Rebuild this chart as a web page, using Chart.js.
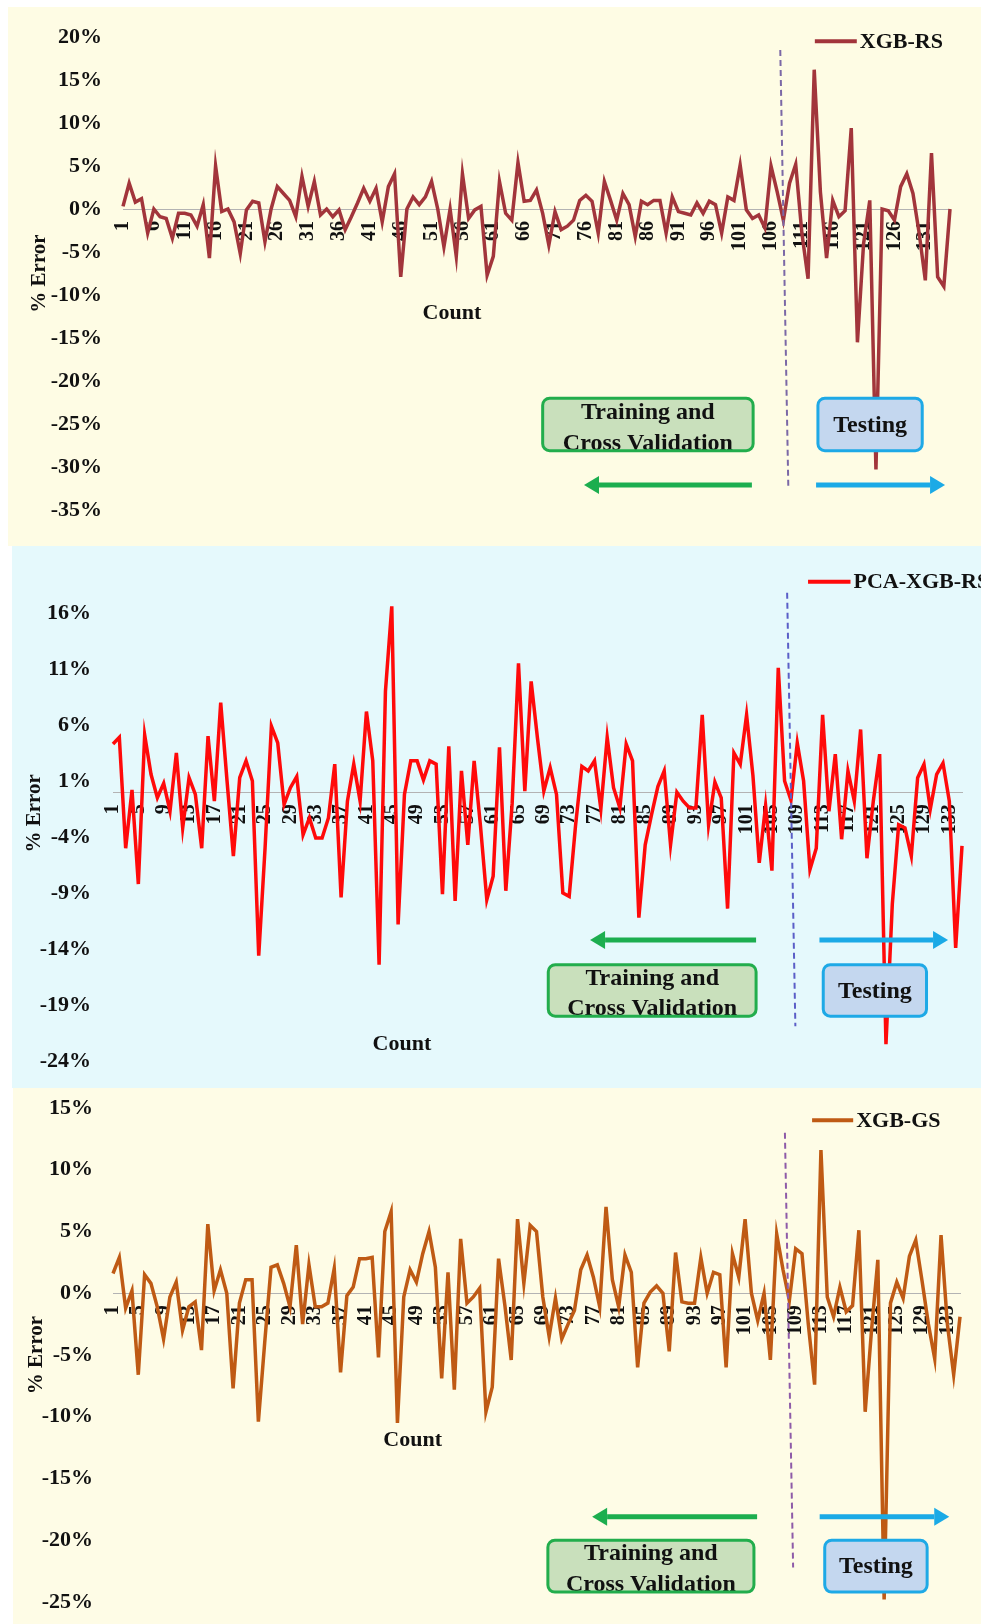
<!DOCTYPE html>
<html>
<head>
<meta charset="utf-8">
<script src="https://cdn.jsdelivr.net/npm/chart.js@4.4.1/dist/chart.umd.min.js"></script>
<style>
  html, body { margin: 0; padding: 0; background: #fff; }
  body { width: 981px; height: 1624px; position: relative; overflow: hidden; }
  .panel { position: absolute; }
  #p1 { left: 8px; top: 7px; width: 973px; height: 539px; background: #FEFCE4; }
  #p2 { left: 12px; top: 546px; width: 969px; height: 542px; background: #E5F9FC; }
  #p3 { left: 13px; top: 1088px; width: 968px; height: 536px; background: #FEFCE6; }
</style>
</head>
<body>
<div class="panel" id="p1"><canvas id="c1" width="973" height="539"></canvas></div>
<div class="panel" id="p2"><canvas id="c2" width="969" height="542"></canvas></div>
<div class="panel" id="p3"><canvas id="c3" width="968" height="536"></canvas></div>
<script>
// sample count (x axis)
const counts = [
  1, 2, 3, 4, 5, 6, 7, 8, 9, 10, 11, 12, 13, 14, 15, 16, 17, 18, 19, 20,
  21, 22, 23, 24, 25, 26, 27, 28, 29, 30, 31, 32, 33, 34, 35, 36, 37, 38, 39, 40,
  41, 42, 43, 44, 45, 46, 47, 48, 49, 50, 51, 52, 53, 54, 55, 56, 57, 58, 59, 60,
  61, 62, 63, 64, 65, 66, 67, 68, 69, 70, 71, 72, 73, 74, 75, 76, 77, 78, 79, 80,
  81, 82, 83, 84, 85, 86, 87, 88, 89, 90, 91, 92, 93, 94, 95, 96, 97, 98, 99, 100,
  101, 102, 103, 104, 105, 106, 107, 108, 109, 110, 111, 112, 113, 114, 115, 116, 117, 118, 119, 120,
  121, 122, 123, 124, 125, 126, 127, 128, 129, 130, 131, 132, 133, 134, 135
];

// x tick labels shown
const xTicksBy5 = [1, 6, 11, 16, 21, 26, 31, 36, 41, 46, 51, 56, 61, 66, 71, 76, 81, 86, 91, 96, 101, 106, 111, 116, 121, 126, 131];
const xTicksBy4 = [1, 5, 9, 13, 17, 21, 25, 29, 33, 37, 41, 45, 49, 53, 57, 61, 65, 69, 73, 77, 81, 85, 89, 93, 97, 101, 105, 109, 113, 117, 121, 125, 129, 133];

// y tick labels (%)
const yTicksRs = [-35, -30, -25, -20, -15, -10, -5, 0, 5, 10, 15, 20];
const yTicksPca = [-24, -19, -14, -9, -4, 1, 6, 11, 16];
const yTicksGs = [-25, -20, -15, -10, -5, 0, 5, 10, 15];

// % error per sample
const xgbRs = [
  0.3, 3.0, 0.8, 1.2, -2.8, 0.0, -0.9, -1.1, -3.4, -0.5,
  -0.5, -0.7, -2.0, 0.5, -5.7, 5.0, -0.3, 0.0, -1.5, -5.2,
  -0.1, 0.9, 0.7, -3.8, 0.0, 2.6, 1.8, 1.0, -0.9, 3.8,
  0.3, 3.2, -0.7, 0.0, -0.9, -0.1, -2.4, -0.9, 0.7, 2.4,
  0.9, 2.4, -1.5, 2.6, 4.1, -7.9, 0.0, 1.4, 0.5, 1.4,
  3.2, 0.0, -4.4, 0.0, -5.5, 4.1, -1.1, -0.1, 0.3, -7.7,
  -5.5, 3.2, -0.5, -1.3, 5.4, 0.9, 1.0, 2.2, -0.5, -4.2,
  -0.3, -2.4, -2.0, -1.3, 1.0, 1.6, 0.9, -2.8, 3.2, 1.0,
  -1.3, 1.8, 0.5, -3.2, 0.9, 0.5, 1.0, 1.0, -2.8, 1.4,
  -0.3, -0.5, -0.7, 0.7, -0.5, 0.9, 0.5, -2.8, 1.4, 1.0,
  5.1, -0.1, -1.1, -0.7, -2.2, 5.0, 2.0, -1.3, 3.0, 5.2,
  -2.8, -8.1, 16.2, 2.0, -5.7, 1.0, -0.9, -0.2, 9.4, -15.5,
  -4.0, 1.0, -30.3, 0.0, -0.2, -1.3, 2.6, 4.1, 1.8, -2.8,
  -8.3, 6.5, -7.9, -9.0, 0.0
];

const pcaXgbRs = [
  4.3, 4.9, -5.0, 0.2, -8.2, 5.1, 1.6, -0.5, 0.8, -1.7,
  3.5, -3.2, 1.3, -0.2, -5.0, 5.0, -0.8, 8.0, 1.0, -5.7,
  1.3, 2.8, 1.0, -14.6, -5.0, 5.9, 4.4, -1.1, 0.4, 1.4,
  -3.8, -2.3, -4.1, -4.1, -2.3, 2.5, -9.4, -0.8, 2.5, -0.8,
  7.2, 2.8, -15.4, 9.0, 16.6, -11.8, -0.2, 2.8, 2.8, 1.1,
  2.8, 2.5, -9.1, 4.1, -9.7, 1.9, -4.7, 2.8, -3.0, -9.6,
  -7.5, 4.0, -8.8, -1.0, 11.5, 0.1, 9.9, 4.8, 0.1, 2.2,
  -0.2, -9.0, -9.3, -3.0, 2.3, 1.9, 2.8, -1.5, 4.9, 0.4,
  -1.4, 4.3, 2.8, -11.2, -4.7, -2.0, 0.5, 1.9, -4.7, 0.0,
  -0.8, -1.4, -1.4, 6.9, -2.9, 0.9, -0.5, -10.4, 3.5, 2.5,
  6.9, 1.5, -6.3, -1.2, -7.0, 11.1, 1.0, -0.7, 4.4, 1.0,
  -6.9, -5.0, 6.9, -1.7, 3.4, -4.2, 1.9, -0.8, 5.6, -5.9,
  -0.8, 3.4, -22.5, -10.0, -2.9, -3.2, -5.7, 1.3, 2.5, -1.5,
  1.6, 2.6, -0.8, -13.9, -4.8
];

const xgbGs = [
  1.6, 2.9, -1.2, 0.2, -6.6, 1.5, 0.8, -1.1, -3.7, -0.3,
  0.9, -3.0, -1.1, -0.7, -4.6, 5.6, 0.2, 1.9, 0.0, -7.7,
  -0.8, 1.1, 1.1, -10.4, -4.0, 2.1, 2.3, 0.8, -1.1, 3.9,
  -2.5, 2.3, -1.1, -1.1, -0.8, 2.0, -6.4, -0.2, 0.5, 2.8,
  2.8, 2.9, -5.2, 5.0, 6.6, -10.5, -0.3, 1.9, 0.9, 3.2,
  5.0, 2.1, -6.9, 1.7, -7.8, 4.4, -0.8, -0.3, 0.4, -9.6,
  -7.6, 2.8, -1.0, -5.4, 6.0, 0.8, 5.5, 5.0, -0.3, -3.5,
  -0.4, -3.7, -2.5, -1.4, 1.9, 3.1, 1.3, -1.1, 7.0, 1.1,
  -1.1, 3.1, 1.7, -6.0, -0.8, 0.1, 0.6, 0.0, -4.7, 3.3,
  -0.7, -0.8, -0.8, 2.9, 0.0, 1.7, 1.5, -6.0, 3.2, 1.3,
  6.0, 0.0, -2.2, 0.0, -5.4, 4.8, 1.9, -0.6, 3.6, 3.2,
  -2.5, -7.4, 11.6, -0.3, -1.9, 0.5, -1.5, -1.0, 5.1, -9.6,
  -3.0, 2.7, -24.8, -0.8, 0.9, -0.4, 3.0, 4.3, 1.0, -2.5,
  -5.3, 4.7, -2.5, -6.6, -1.9
];

const FONT = '"Liberation Serif", "Times New Roman", serif';

function arrow(ctx, x0, x1, y, color) {
  const dir = Math.sign(x1 - x0);
  const head = 15;
  ctx.strokeStyle = color;
  ctx.fillStyle = color;
  ctx.lineWidth = 5;
  ctx.beginPath();
  ctx.moveTo(x0, y);
  ctx.lineTo(x1 - dir * head, y);
  ctx.stroke();
  ctx.beginPath();
  ctx.moveTo(x1, y);
  ctx.lineTo(x1 - dir * head, y - 9);
  ctx.lineTo(x1 - dir * head, y + 9);
  ctx.closePath();
  ctx.fill();
}

function roundBox(ctx, l, t, w, h, r) {
  ctx.beginPath();
  ctx.moveTo(l + r, t);
  ctx.arcTo(l + w, t, l + w, t + h, r);
  ctx.arcTo(l + w, t + h, l, t + h, r);
  ctx.arcTo(l, t + h, l, t, r);
  ctx.arcTo(l, t, l + w, t, r);
  ctx.closePath();
}

function box(ctx, l, t, r, b, fill, stroke, lines) {
  const w = r - l, h = b - t;
  roundBox(ctx, l, t, w, h, 7);
  ctx.fillStyle = fill;
  ctx.fill();
  ctx.fillStyle = '#111';
  ctx.font = 'bold 24px ' + FONT;
  ctx.textAlign = 'center';
  ctx.textBaseline = 'middle';
  if (lines.length === 1) {
    ctx.fillText(lines[0], l + w / 2, t + h / 2 + 1);
  } else {
    ctx.fillText(lines[0], l + w / 2, t + h * 0.27);
    ctx.fillText(lines[1], l + w / 2, t + h * 0.86);
  }
  roundBox(ctx, l, t, w, h, 7);
  ctx.lineWidth = 3;
  ctx.strokeStyle = stroke;
  ctx.stroke();
}

// split line, arrows, boxes, "Count" and legend, placed on the chart's scales
function makeMarks(m) {
  return {
    id: 'marks',
    afterDatasetsDraw(chart) {
      const ctx = chart.ctx;
      const X = v => chart.scales.x.getPixelForValue(v);
      const Y = v => chart.scales.y.getPixelForValue(v);
      const ds = chart.data.datasets[0];
      ctx.save();

      ctx.strokeStyle = m.splitColor;
      ctx.lineWidth = 2;
      ctx.setLineDash([6, 4]);
      ctx.beginPath();
      ctx.moveTo(X(m.split.x[0]), Y(m.split.y[0]));
      ctx.lineTo(X(m.split.x[1]), Y(m.split.y[1]));
      ctx.stroke();
      ctx.setLineDash([]);

      arrow(ctx, X(m.trainArrow[0]), X(m.trainArrow[1]), Y(m.arrowY), '#1CAE4F');
      arrow(ctx, X(m.testArrow[0]), X(m.testArrow[1]), Y(m.arrowY), '#1BAAE6');

      box(ctx, X(m.trainBox[0]), Y(m.boxY[0]), X(m.trainBox[1]), Y(m.boxY[1]),
          '#C9E0BC', '#22AD4C', ['Training and', 'Cross Validation']);
      box(ctx, X(m.testBox[0]), Y(m.boxY[0]), X(m.testBox[1]), Y(m.boxY[1]),
          '#C4D7EF', '#1EA9E6', ['Testing']);

      ctx.fillStyle = '#111';
      ctx.font = 'bold 22px ' + FONT;
      ctx.textAlign = 'center';
      ctx.textBaseline = 'middle';
      ctx.fillText('Count', X(m.count[0]), Y(m.count[1]));

      const ly = Y(m.legend.y), lx0 = X(m.legend.x[0]), lx1 = X(m.legend.x[1]);
      ctx.strokeStyle = ds.borderColor;
      ctx.lineWidth = 4;
      ctx.beginPath();
      ctx.moveTo(lx0, ly);
      ctx.lineTo(lx1, ly);
      ctx.stroke();
      ctx.fillStyle = '#111';
      ctx.textAlign = 'left';
      ctx.fillText(ds.label, lx1 + 3, ly + 1);

      ctx.restore();
    }
  };
}

function errorChart(canvasId, p) {
  return new Chart(document.getElementById(canvasId), {
    type: 'line',
    data: {
      labels: counts,
      datasets: [{
        label: p.name,
        data: p.values,
        borderColor: p.color,
        borderWidth: 3.5,
        pointRadius: 0,
        tension: 0,
        fill: false,
        clip: false
      }]
    },
    options: {
      responsive: false,
      animation: false,
      events: [],
      layout: { autoPadding: false, padding: p.padding },
      scales: {
        x: {
          position: { y: 0 },
          grid: { display: true, drawOnChartArea: false, drawTicks: false },
          border: { display: true, color: '#b3b3b3', width: 1 },
          ticks: {
            autoSkip: false,
            minRotation: 90,
            maxRotation: 90,
            padding: 12,
            color: '#111',
            font: { family: FONT, size: 20, weight: 'bold' },
            callback: function (value) {
              const c = this.getLabelForValue(value);
              return p.xTicks.includes(c) ? String(c) : '';
            }
          },
          afterFit: s => {
            s.height = 0;
            s.paddingLeft = 0;
            s.paddingRight = 0;
          }
        },
        y: {
          min: p.yTicks[0],
          max: p.yTicks[p.yTicks.length - 1],
          grid: { display: false, drawTicks: false },
          border: { display: false },
          ticks: {
            stepSize: p.yTicks[1] - p.yTicks[0],
            padding: p.yPad,
            color: '#111',
            font: { family: FONT, size: 22, weight: 'bold' },
            callback: v => v + '%'
          },
          title: {
            display: true,
            text: p.yTitle,
            color: '#111',
            font: { family: FONT, size: 21, weight: 'bold' },
            padding: { top: p.titlePad, bottom: 0 }
          },
          afterFit: s => {
            s.width = p.yWidth;
            s.paddingTop = 0;
            s.paddingBottom = 0;
          }
        }
      },
      plugins: {
        legend: { display: false },
        tooltip: { enabled: false }
      }
    },
    plugins: [makeMarks(p.marks)]
  });
}

errorChart('c1', {
  name: 'XGB-RS',
  values: xgbRs,
  color: '#A2353B',
  xTicks: xTicksBy5,
  yTicks: yTicksRs,
  yTitle: '% Error',
  padding: { top: 30, right: 31, bottom: 36, left: 0 },
  yWidth: 115,
  yPad: 21,
  titlePad: 19,
  marks: {
    splitColor: '#7B68A6',
    split: { x: [106.5, 107.8], y: [18.5, -32.3] },
    arrowY: -32.1,
    trainArrow: [101.9, 74.7],
    testArrow: [112.3, 133.2],
    boxY: [-22.0, -28.1],
    trainBox: [68.0, 102.1],
    testBox: [112.6, 129.5],
    count: [53.3, -12.1],
    legend: { x: [112.1, 118.9], y: 19.5 }
  }
});

errorChart('c2', {
  name: 'PCA-XGB-RS',
  values: pcaXgbRs,
  color: '#FF0A0A',
  xTicks: xTicksBy4,
  yTicks: yTicksPca,
  // title sits a little above the axis middle in this panel
  yTitle: '         % Error',
  padding: { top: 67, right: 19, bottom: 27, left: 0 },
  yWidth: 101,
  yPad: 22,
  titlePad: 10,
  marks: {
    splitColor: '#5B5FC7',
    split: { x: [106.4, 107.7], y: [17.8, -20.9] },
    arrowY: -13.2,
    trainArrow: [101.5, 75.3],
    testArrow: [111.5, 131.8],
    boxY: [-15.4, -20.0],
    trainBox: [68.7, 101.5],
    testBox: [112.1, 128.4],
    count: [45.6, -22.5],
    legend: { x: [109.7, 116.4], y: 18.8 }
  }
});

errorChart('c3', {
  name: 'XGB-GS',
  values: xgbGs,
  color: '#BF5A14',
  xTicks: xTicksBy4,
  yTicks: yTicksGs,
  yTitle: '% Error',
  padding: { top: 20, right: 21, bottom: 22, left: 0 },
  yWidth: 100,
  yPad: 20,
  titlePad: 11,
  marks: {
    splitColor: '#8E5BA8',
    split: { x: [106.3, 107.6], y: [13.0, -22.2] },
    arrowY: -18.1,
    trainArrow: [101.9, 75.8],
    testArrow: [111.8, 132.3],
    boxY: [-20.0, -24.2],
    trainBox: [68.8, 101.4],
    testBox: [112.6, 128.8],
    count: [47.4, -11.9],
    legend: { x: [110.6, 117.1], y: 14.0 }
  }
});
</script>
</body>
</html>
